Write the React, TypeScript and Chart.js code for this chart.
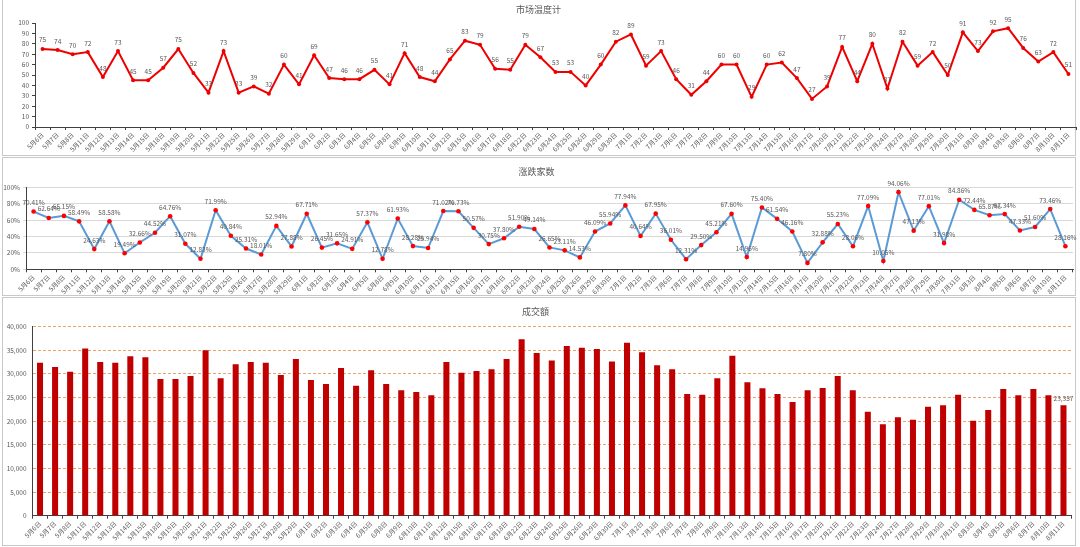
import { useEffect, useRef } from "react";
import { Chart, registerables } from "chart.js";

Chart.register(...registerables);

const FONT = '"Noto Sans CJK SC", "Noto Sans", sans-serif';
const GRAY = "#595959";

const dates = [
  "5月6日", "5月7日", "5月8日", "5月11日", "5月12日", "5月13日", "5月14日", "5月15日", "5月18日", "5月19日",
  "5月20日", "5月21日", "5月22日", "5月25日", "5月26日", "5月27日", "5月28日", "5月29日", "6月1日", "6月2日",
  "6月3日", "6月4日", "6月5日", "6月8日", "6月9日", "6月10日", "6月11日", "6月12日", "6月15日", "6月16日",
  "6月17日", "6月18日", "6月22日", "6月23日", "6月24日", "6月25日", "6月26日", "6月29日", "6月30日", "7月1日",
  "7月2日", "7月3日", "7月6日", "7月7日", "7月8日", "7月9日", "7月10日", "7月13日", "7月14日", "7月15日",
  "7月16日", "7月17日", "7月20日", "7月21日", "7月22日", "7月23日", "7月24日", "7月27日", "7月28日", "7月29日",
  "7月30日", "7月31日", "8月3日", "8月4日", "8月5日", "8月6日", "8月7日", "8月10日", "8月11日",
];

// 市场温度计
const temperature = [
  75, 74, 70, 72, 48, 73, 45, 45, 57, 75,
  52, 33, 73, 33, 39, 32, 60, 41, 69, 47,
  46, 46, 55, 41, 71, 48, 44, 65, 83, 79,
  56, 55, 79, 67, 53, 53, 40, 60, 82, 89,
  59, 73, 46, 31, 44, 60, 60, 29, 60, 62,
  47, 27, 39, 77, 44, 80, 37, 82, 59, 72,
  50, 91, 73, 92, 95, 76, 63, 72, 51,
];

// 涨跌家数 (%)
const advanceRatio = [
  70.41, 62.64, 65.15, 58.49, 24.63, 58.58, 19.49, 32.66, 44.52, 64.76,
  31.07, 12.83, 71.99, 40.84, 25.31, 18.01, 52.94, 27.88, 67.71, 26.45,
  31.65, 24.91, 57.37, 12.78, 61.93, 28.28, 25.94, 71.02, 70.73, 50.57,
  30.75, 37.8, 51.9, 49.14, 26.65, 23.11, 14.53, 46.09, 55.94, 77.94,
  40.64, 67.95, 36.01, 12.31, 29.5, 45.21, 67.6, 14.96, 75.4, 61.54,
  46.16, 7.8, 32.88, 55.23, 28.06, 77.09, 10.05, 94.06, 47.13, 77.01,
  31.98, 84.86, 72.44, 65.87, 67.34, 47.33, 51.6, 73.46, 28.16,
];

// 成交額
const turnover = [
  32380, 31460, 30480, 35410, 32520, 32380, 33720, 33510, 28920, 28920,
  29560, 34990, 29070, 32030, 32520, 32380, 29770, 33160, 28710, 27870,
  31250, 27510, 30760, 27870, 26530, 26170, 25470, 32520, 30270, 30620,
  30970, 33160, 37320, 34430, 32870, 35910, 35560, 35270, 32660, 36610,
  34570, 31820, 30970, 25750, 25610, 29070, 33860, 28220, 26950, 25750,
  24060, 26530, 27020, 29560, 26530, 22010, 19330, 20810, 20320, 23070,
  23350, 25610, 20110, 22360, 26810, 25470, 26810, 25470, 23357,
];

const small = { family: FONT, size: 6.5 };

// draws the value text above each point / bar
function valueLabels(format: (v: number) => string, offset: number, onlyLast = false) {
  return {
    id: "valueLabels",
    afterDatasetsDraw(chart: Chart) {
      const ctx = chart.ctx;
      const meta = chart.getDatasetMeta(0);
      const values = chart.data.datasets[0].data as number[];
      ctx.save();
      ctx.font = `6.5px ${FONT}`;
      ctx.fillStyle = GRAY;
      ctx.textAlign = "center";
      ctx.textBaseline = "middle";
      meta.data.forEach((el: any, i: number) => {
        if (onlyLast && i !== values.length - 1) return;
        ctx.fillText(format(values[i]), el.x, el.y - offset);
      });
      ctx.restore();
    },
  };
}

function title(text: string, top: number, bottom: number) {
  return {
    display: true,
    text,
    color: GRAY,
    font: { family: FONT, size: 9, weight: "normal" as const },
    padding: { top, bottom },
  };
}

function xAxis(height: number) {
  return {
    offset: true,
    afterFit: (s: any) => { s.height = height; },
    ticks: { color: GRAY, font: small, autoSkip: false, minRotation: 45, maxRotation: 45, padding: 1 },
    grid: { offset: true, drawOnChartArea: false, drawTicks: true, tickLength: 3, color: "#404040" },
    border: { display: true, color: "#404040" },
  };
}

function temperatureConfig(): any {
  return {
    type: "line",
    data: {
      labels: dates,
      datasets: [{
        data: temperature,
        borderColor: "#ee0000",
        borderWidth: 2,
        pointRadius: 2,
        pointBackgroundColor: "#ee0000",
        pointBorderWidth: 0,
        tension: 0,
      }],
    },
    options: {
      responsive: true,
      maintainAspectRatio: false,
      animation: false,
      layout: { padding: { top: 0, right: 3, bottom: 0, left: 0 } },
      plugins: { legend: { display: false }, tooltip: { enabled: false }, title: title("市场温度计", 4.6, 7.6) },
      scales: {
        x: xAxis(29),
        y: {
          min: 0, max: 100,
          afterFit: (s: any) => { s.width = 35; },
          ticks: { stepSize: 10, autoSkip: false, color: GRAY, font: small, padding: 3 },
          grid: { drawOnChartArea: false, tickLength: 3, color: "#404040" },
          border: { display: true, color: "#404040" },
        },
      },
    },
    plugins: [valueLabels((v) => String(v), 9)],
  };
}

function advanceConfig(): any {
  return {
    type: "line",
    data: {
      labels: dates,
      datasets: [{
        data: advanceRatio,
        borderColor: "#5b9bd5",
        borderWidth: 2,
        pointRadius: 2.3,
        pointBackgroundColor: "#ff0000",
        pointBorderWidth: 0,
        tension: 0,
      }],
    },
    options: {
      responsive: true,
      maintainAspectRatio: false,
      animation: false,
      layout: { padding: { top: 0, right: 7, bottom: 0, left: 0 } },
      plugins: { legend: { display: false }, tooltip: { enabled: false }, title: title("涨跌家数", 9.6, 9.9) },
      scales: {
        x: xAxis(25.7),
        y: {
          min: 0, max: 100,
          afterFit: (s: any) => { s.width = 26; },
          ticks: { stepSize: 20, autoSkip: false, color: GRAY, font: small, padding: 3, callback: (v: any) => v + "%" },
          grid: { color: "#d9d9d9", tickLength: 3 },
          border: { display: true, color: "#404040" },
        },
      },
    },
    plugins: [valueLabels((v) => v.toFixed(2) + "%", 9)],
  };
}

function turnoverConfig(): any {
  return {
    type: "bar",
    data: {
      labels: dates,
      datasets: [{
        data: turnover,
        backgroundColor: "#c00000",
        categoryPercentage: 1,
        barPercentage: 0.4,
      }],
    },
    options: {
      responsive: true,
      maintainAspectRatio: false,
      animation: false,
      layout: { padding: { top: 0, right: 9, bottom: 0, left: 0 } },
      plugins: { legend: { display: false }, tooltip: { enabled: false }, title: title("成交額", 9.3, 9.6) },
      scales: {
        x: xAxis(31.3),
        y: {
          min: 0, max: 40000,
          afterFit: (s: any) => { s.width = 32.5; },
          ticks: { stepSize: 5000, autoSkip: false, color: GRAY, font: small, padding: 6, callback: (v: any) => Number(v).toLocaleString("en-US") },
          grid: { color: "#e8a46d", drawTicks: false },
          border: { display: true, color: "#404040", dash: [3, 2] },
        },
      },
    },
    plugins: [valueLabels((v) => v.toLocaleString("en-US"), 7, true)],
  };
}

function Panel({ top, height, build }: { top: number; height: number; build: () => any }) {
  const canvasRef = useRef<HTMLCanvasElement>(null);

  useEffect(() => {
    if (!canvasRef.current) return;
    const chart = new Chart(canvasRef.current, build());
    return () => chart.destroy();
  }, [build]);

  return (
    <div style={{ position: "absolute", left: 0, top, width: 1080, height }}>
      <canvas ref={canvasRef}></canvas>
    </div>
  );
}

function Frame({ top, height }: { top: number; height: number }) {
  return (
    <div style={{
      position: "absolute", left: 2, top, width: 1074, height,
      border: "1px solid #c8c8c8", boxSizing: "border-box",
    }} />
  );
}

export default function App() {
  return (
    <div style={{ position: "fixed", left: 0, top: 0, width: 1080, height: 547, background: "#fff", overflow: "hidden" }}>
      <Frame top={-2} height={158} />
      <Frame top={157} height={139} />
      <Frame top={297} height={249} />
      <Panel top={0} height={156} build={temperatureConfig} />
      <Panel top={157} height={138} build={advanceConfig} />
      <Panel top={297} height={250} build={turnoverConfig} />
    </div>
  );
}
